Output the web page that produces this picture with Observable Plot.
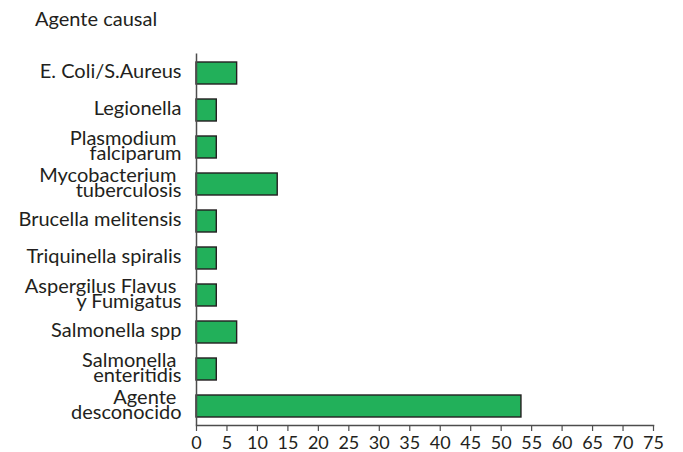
<!DOCTYPE html>
<html>
<head>
<meta charset="utf-8">
<script src="https://cdn.jsdelivr.net/npm/d3@7"></script>
<script src="https://cdn.jsdelivr.net/npm/@observablehq/plot@0.6"></script>
<style>
  html, body { margin: 0; padding: 0; background: #fff; }
  #title { font-family: Lato, "Open Sans", sans-serif; font-size: 20px; color: #231f20;
           height: 40px; line-height: 36px; padding-left: 35px; box-sizing: border-box; }
</style>
</head>
<body>
<div id="title">Agente causal</div>
<div id="chart"></div>
<script>
const categories = [
  "E. Coli/S.Aureus",
  "Legionella",
  "Plasmodium\u00a0\nfalciparum",
  "Mycobacterium\u00a0\ntuberculosis",
  "Brucella melitensis",
  "Triquinella spiralis",
  "Aspergilus Flavus\u00a0\ny Fumigatus",
  "Salmonella spp",
  "Salmonella\u00a0\nenteritidis",
  "Agente\u00a0\ndesconocido"
];
const values = [6.67, 3.33, 3.33, 13.33, 3.33, 3.33, 3.33, 6.67, 3.33, 53.33];
const xTicks = [0, 5, 10, 15, 20, 25, 30, 35, 40, 45, 50, 55, 60, 65, 70, 75];

const data = categories.map((c, i) => ({category: c, value: values[i]}));

const chart = Plot.plot({
  width: 683,
  height: 412,
  marginTop: 13.5,
  marginBottom: 27,
  marginLeft: 196,
  marginRight: 30,
  style: {fontFamily: "Lato, 'Open Sans', sans-serif", color: "#231f20", background: "#fff", overflow: "visible"},
  x: {domain: [0, 75], ticks: xTicks},
  y: {domain: categories, paddingInner: 0.4, paddingOuter: 0.2},
  marks: [
    Plot.barX(data, {x: "value", y: "category", fill: "#22b05a", stroke: "#231f20", strokeWidth: 1.4}),
    Plot.ruleX([0], {stroke: "#4d4d4d", strokeWidth: 1.5}),
    Plot.frame({anchor: "bottom", stroke: "#4d4d4d", strokeWidth: 1.5}),
    Plot.axisX({ticks: xTicks, tickSize: 6, tickPadding: 5, fontSize: 18, label: null, stroke: "#4d4d4d", strokeWidth: 1.2, fill: "#231f20"}),
    Plot.axisY({tickSize: 0, tickPadding: 15, fontSize: 20, lineHeight: 0.76, label: null, fill: "#231f20"})
  ]
});
document.getElementById("chart").appendChild(chart);
</script>
</body>
</html>
